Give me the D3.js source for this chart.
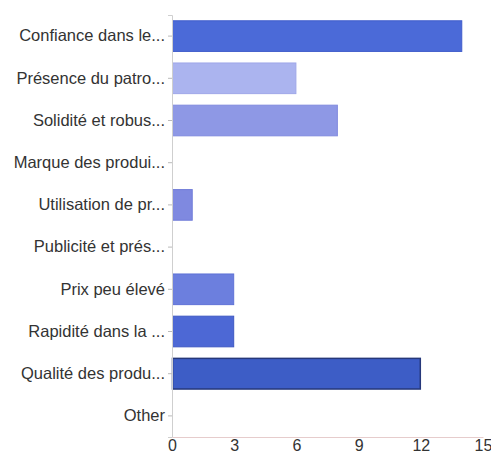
<!DOCTYPE html>
<html>
<head>
  <meta charset="utf-8">
  <script src="https://d3js.org/d3.v7.min.js"></script>
  <style>
    body { margin: 0; background: white; }
    svg text { font-family: 'Liberation Sans', Arial, sans-serif; }
  </style>
</head>
<body>
  <svg id="chart" width="491" height="457"></svg>
  <script>
    // data
    var categories = [
      "Confiance dans le...",
      "Présence du patro...",
      "Solidité et robus...",
      "Marque des produi...",
      "Utilisation de pr...",
      "Publicité et prés...",
      "Prix peu élevé",
      "Rapidité dans la ...",
      "Qualité des produ...",
      "Other"
    ];
    var counts = [14, 6, 8, 0, 1, 0, 3, 3, 12, 0];
    var xTicks = [0, 3, 6, 9, 12, 15];

    // bar colours (style only)
    var fills   = ["#4b6ad8", "#abb4ef", "#8e98e5", "#8a93e3", "#7f89e0", "#7a86e0", "#6c7fde", "#4d68d5", "#3d5dc6", "#3d5dc6"];
    var strokes = ["#3f5ccb", "#9ea7e8", "#808ade", "#7c86dc", "#717cd9", "#6c78d9", "#5f72d6", "#3e58c2", "#26387a", "#26387a"];

    var plotLeft = 172, plotRight = 483, plotTop = 15, plotBottom = 437;

    var svg = d3.select('#chart');

    var x = d3.scaleLinear().domain([0, 15]).range([plotLeft, plotRight]);
    var y = d3.scaleBand().domain(categories).range([plotTop, plotBottom]).paddingInner(0.25).paddingOuter(0.125);

    // bars
    svg.append('g')
      .selectAll('rect')
      .data(categories)
      .join('rect')
      .attr('x', x(0) + 0.5)
      .attr('y', function (d) { return y(d) + 0.5; })
      .attr('width', function (d, i) { return Math.max(0, x(counts[i]) - x(0) - 1); })
      .attr('height', y.bandwidth() - 1)
      .attr('fill', function (d, i) { return fills[i]; })
      .attr('stroke', function (d, i) { return strokes[i]; })
      .attr('stroke-width', function (d, i) { return i === 8 ? 1.5 : 1; })
      .attr('visibility', function (d, i) { return counts[i] > 0 ? 'visible' : 'hidden'; });

    // left axis
    var yAxis = d3.axisLeft(y).tickSize(4).tickPadding(3);
    var gy = svg.append('g')
      .attr('transform', 'translate(' + plotLeft + ',0)')
      .call(yAxis);
    gy.select('.domain').attr('stroke', '#cfcfcf');
    gy.selectAll('.tick line').attr('stroke', '#bbbbbb');
    gy.selectAll('.tick text')
      .attr('fill', '#333')
      .style('font-size', '16.5px');

    // bottom axis
    var xAxis = d3.axisBottom(x).tickValues(xTicks).tickSize(0).tickPadding(3);
    var gx = svg.append('g')
      .attr('transform', 'translate(0,' + plotBottom + ')')
      .call(xAxis);
    gx.select('.domain').attr('stroke', '#e6cccc');
    gx.selectAll('.tick text')
      .attr('fill', '#333')
      .style('font-size', '16px');
  </script>
</body>
</html>
